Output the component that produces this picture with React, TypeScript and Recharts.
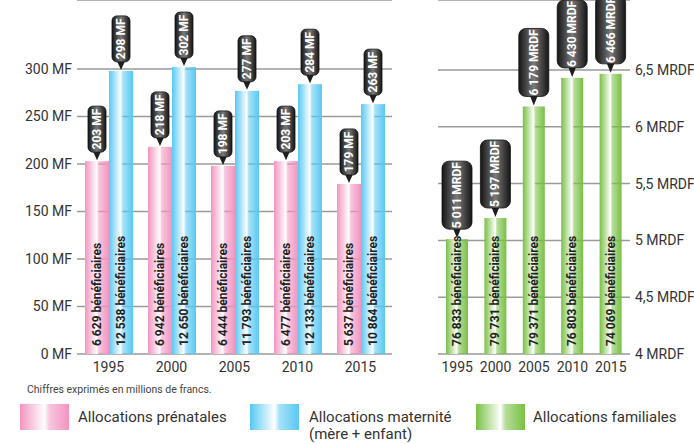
import React from 'react';
import { BarChart, Bar, XAxis, YAxis, CartesianGrid } from 'recharts';

const years = ['1995', '2000', '2005', '2010', '2015'];
const prenatales = [203, 218, 198, 203, 179];
const maternite = [298, 302, 277, 284, 263];
const prenatalesBenef = ['6 629', '6 942', '6 444', '6 477', '5 637'];
const materniteBenef = ['12 538', '12 650', '11 793', '12 133', '10 864'];
const familiales = [5.011, 5.197, 6.179, 6.43, 6.466];
const familialesBenef = ['76 833', '79 731', '79 371', '76 803', '74 069'];
const leftTicks = [0, 50, 100, 150, 200, 250, 300];
const rightTicks = [4, 4.5, 5, 5.5, 6, 6.5];

const leftData = years.map((year, i) => ({ year, prenatales: prenatales[i], maternite: maternite[i] }));
const rightData = years.map((year, i) => ({ year, familiales: familiales[i] }));

const FONT = 'Roboto, "DejaVu Sans", sans-serif';
const PINK = '#f294c0';
const BLUE = '#58c8f2';
const GREEN = '#78c043';

const fmtMrdf = (v: number) => {
  const n = Math.round(v * 1000);
  return `${Math.floor(n / 1000)} ${String(n % 1000).padStart(3, '0')} MRDF`;
};

type CalloutOpts = { w: number; h: number; gap: number; r: number; font: number };

const makeShape =
  (gradId: string, benef: string[], label: (v: number) => string, o: CalloutOpts) =>
  (props: any) => {
    const { x, y, width, height, index, value } = props;
    const v = Array.isArray(value) ? value[1] - 0 : value;
    const cx = x + width / 2;
    const bottom = y + height;
    const boxBottom = y - o.gap;
    const boxTop = boxBottom - o.h;
    const cy = boxTop + o.h / 2;
    return (
      <g>
        <rect x={x} y={y} width={width} height={height} fill={`url(#${gradId})`} />
        <text
          x={cx}
          y={bottom - 8}
          transform={`rotate(-90 ${cx} ${bottom - 8})`}
          textAnchor="start"
          dominantBaseline="central"
          fontSize={12}
          fontWeight="bold"
          fill="#222"
          fontFamily={FONT}
        >
          {`${benef[index]} bénéficiaires`}
        </text>
        <polygon points={`${cx - 4},${boxBottom - 1} ${cx + 4},${boxBottom - 1} ${cx},${y - 1}`} fill="#1e1e1e" />
        <rect x={cx - o.w / 2} y={boxTop} width={o.w} height={o.h} rx={o.r} fill="url(#callout)" stroke="#111" strokeWidth={0.8} />
        <text
          x={cx}
          y={cy}
          transform={`rotate(-90 ${cx} ${cy})`}
          textAnchor="middle"
          dominantBaseline="central"
          fontSize={o.font}
          fontWeight="bold"
          fill="#fff"
          fontFamily={FONT}
        >
          {label(v)}
        </text>
      </g>
    );
  };

const grad = (id: string, c: string) => (
  <linearGradient id={id} x1="0" y1="0" x2="1" y2="0">
    <stop offset="0%" stopColor={c} />
    <stop offset="50%" stopColor="#ffffff" />
    <stop offset="60%" stopColor={c} stopOpacity={0.55} />
    <stop offset="100%" stopColor={c} />
  </linearGradient>
);

const calloutGrad = (
  <linearGradient id="callout" x1="0" y1="0" x2="1" y2="0">
    <stop offset="0%" stopColor="#151515" />
    <stop offset="50%" stopColor="#7a7a7a" />
    <stop offset="100%" stopColor="#151515" />
  </linearGradient>
);

const leftCallout = { w: 18, h: 46, gap: 9, r: 5, font: 12 };
const rightCallout = { w: 30, h: 68, gap: 10, r: 7, font: 12 };

const swatch = (c: string): React.CSSProperties => ({
  position: 'absolute',
  width: 49,
  height: 26,
  background: `linear-gradient(to right, ${c} 0%, #ffffff 50%, ${c}88 60%, ${c} 100%)`,
});

const legendText: React.CSSProperties = { position: 'absolute', fontSize: 15, color: '#333', lineHeight: '17px' };

export default function App() {
  return (
    <div style={{ position: 'absolute', left: 0, top: 0, width: 694, height: 444, background: '#fff', fontFamily: FONT, overflow: 'hidden' }}>
      <div style={{ position: 'absolute', left: 0, top: 0 }}>
        <BarChart width={400} height={384} data={leftData} margin={{ top: 0, right: 8, bottom: 0, left: 0 }} barGap={0} barSize={24}>
          <defs>
            {grad('pink', PINK)}
            {grad('blue', BLUE)}
            {calloutGrad}
          </defs>
          <CartesianGrid vertical={false} stroke="#9a9a9a" strokeWidth={1.5} />
          <XAxis dataKey="year" axisLine={false} tickLine={false} height={30} tick={{ fontSize: 14, fill: '#333' }} />
          <YAxis
            type="number"
            domain={[0, 372.6]}
            ticks={leftTicks}
            width={77}
            axisLine={false}
            tickLine={false}
            tickSize={3}
            tickMargin={2}
            tick={{ fontSize: 14, fill: '#333' }}
            tickFormatter={(v: number) => `${v} MF`}
          />
          <Bar dataKey="prenatales" isAnimationActive={false} shape={makeShape('pink', prenatalesBenef, (v) => `${v} MF`, leftCallout)} />
          <Bar dataKey="maternite" isAnimationActive={false} shape={makeShape('blue', materniteBenef, (v) => `${v} MF`, leftCallout)} />
        </BarChart>
      </div>
      <div style={{ position: 'absolute', left: 430, top: 0 }}>
        <BarChart width={290} height={384} data={rightData} margin={{ top: 0, right: 0, bottom: 0, left: 8 }} barSize={22}>
          <defs>
            {grad('green', GREEN)}
            {calloutGrad}
          </defs>
          <CartesianGrid vertical={false} stroke="#9a9a9a" strokeWidth={1.5} />
          <XAxis dataKey="year" axisLine={false} tickLine={false} height={30} tick={{ fontSize: 14, fill: '#333' }} />
          <YAxis
            orientation="right"
            type="number"
            domain={[4, 7.116]}
            ticks={rightTicks}
            width={90}
            axisLine={false}
            tickLine={false}
            tickSize={3}
            tickMargin={2}
            tick={{ fontSize: 14, fill: '#333' }}
            tickFormatter={(v: number) => `${String(v).replace('.', ',')} MRDF`}
          />
          <Bar dataKey="familiales" isAnimationActive={false} shape={makeShape('green', familialesBenef, fmtMrdf, rightCallout)} />
        </BarChart>
      </div>
      <div style={{ position: 'absolute', left: 27, top: 383, fontSize: 10.5, color: '#444' }}>
        Chiffres exprimés en millions de francs.
      </div>
      <div style={{ ...swatch(PINK), left: 20, top: 404 }} />
      <div style={{ ...legendText, left: 78, top: 409 }}>Allocations prénatales</div>
      <div style={{ ...swatch(BLUE), left: 250, top: 404 }} />
      <div style={{ ...legendText, left: 309, top: 409 }}>
        Allocations maternité
        <br />
        (mère + enfant)
      </div>
      <div style={{ ...swatch(GREEN), left: 476, top: 404 }} />
      <div style={{ ...legendText, left: 533, top: 409 }}>Allocations familiales</div>
    </div>
  );
}
